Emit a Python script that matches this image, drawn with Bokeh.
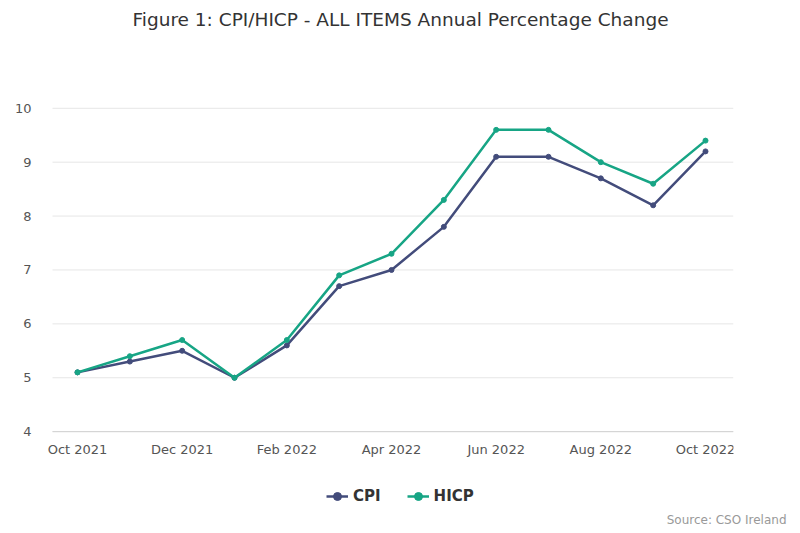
from bokeh.plotting import figure
from bokeh.models import Title, Legend, LegendItem, FixedTicker, Range1d, Label, ColumnDataSource
from bokeh.embed import file_html
from bokeh.resources import INLINE

months = ["Oct 2021", "Nov 2021", "Dec 2021", "Jan 2022", "Feb 2022", "Mar 2022", "Apr 2022",
          "May 2022", "Jun 2022", "Jul 2022", "Aug 2022", "Sep 2022", "Oct 2022"]
cpi = [5.1, 5.3, 5.5, 5.0, 5.6, 6.7, 7.0, 7.8, 9.1, 9.1, 8.7, 8.2, 9.2]
hicp = [5.1, 5.4, 5.7, 5.0, 5.7, 6.9, 7.3, 8.3, 9.6, 9.6, 9.0, 8.6, 9.4]
y_ticks = [4, 5, 6, 7, 8, 9, 10]

xs = list(range(len(months)))
FONT = "DejaVu Sans"
CPI_COLOR = "#434c7b"
HICP_COLOR = "#17a585"

# frame: x 40..733 px, y 0..508 px ; 52.333 px per month, 54 px per unit
PX_X = (705 - 77) / 12.0
PX_Y = 54.0
x0 = -(77 - 40) / PX_X
x1 = x0 + (733 - 40) / PX_X
grid_start = -(77 - 52) / PX_X
y_top = 10 + 108 / PX_Y
y_bot = 4 - (508 - 432) / PX_Y

p = figure(width=800, height=533, output_backend="svg", toolbar_location=None,
           x_range=Range1d(x0, x1), y_range=Range1d(y_bot, y_top), x_axis_location=None,
           min_border_left=40, min_border_right=67, min_border_top=0, min_border_bottom=25)
p.outline_line_color = None
p.background_fill_color = "white"
p.border_fill_color = "white"

p.yaxis.ticker = FixedTicker(ticks=y_ticks)
p.yaxis.major_tick_line_color = None
p.yaxis.minor_tick_line_color = None
p.yaxis.axis_line_color = None
p.yaxis.major_label_text_font = FONT
p.yaxis.major_label_text_font_size = "13px"
p.yaxis.major_label_text_color = "#555555"
p.yaxis.major_label_standoff = 3
p.ygrid.grid_line_color = None
p.xgrid.grid_line_color = None

# horizontal grid lines and x axis baseline
n = len(y_ticks)
p.segment(x0=[grid_start] * n, y0=y_ticks, x1=[x1] * n, y1=y_ticks, line_color="#e6e6e6", line_width=1)
p.segment(x0=[grid_start], y0=[y_ticks[0]], x1=[x1], y1=[y_ticks[0]], line_color="#d2d2d2", line_width=1)

lab_src = ColumnDataSource(dict(x=xs[::2], y=[y_ticks[0]] * len(xs[::2]), t=months[::2]))
p.text(x="x", y="y", text="t", source=lab_src, text_align="center", text_baseline="top",
       y_offset=10, text_font={"value": FONT}, text_font_size={"value": "13px"}, text_color="#555555")

l1 = p.line(xs, cpi, line_color=CPI_COLOR, line_width=2.5)
s1 = p.scatter(xs, cpi, size=5, fill_color=CPI_COLOR, line_color=CPI_COLOR)
l2 = p.line(xs, hicp, line_color=HICP_COLOR, line_width=2.5)
s2 = p.scatter(xs, hicp, size=5, fill_color=HICP_COLOR, line_color=HICP_COLOR)

legend = Legend(items=[LegendItem(label="CPI", renderers=[l1, s1]),
                       LegendItem(label="HICP", renderers=[l2, s2])],
                orientation="horizontal", location=(326 - 40, 1),
                label_text_font=FONT, label_text_font_size="15px", label_text_font_style="bold",
                label_text_color="#333333", border_line_color=None, background_fill_alpha=0,
                glyph_width=22, label_standoff=5, spacing=26, margin=0, padding=0)
p.add_layout(legend)

p.add_layout(Label(x=x0 + (400 - 40) / PX_X, y=y_top - 19 / PX_Y,
                   text="Figure 1: CPI/HICP - ALL ITEMS Annual Percentage Change",
                   text_align="center", text_baseline="middle", text_font=FONT,
                   text_font_size="18.5px", text_color="#333333"))

source = Title(text="Source: CSO Ireland", align="right", vertical_align="top", offset=-53,
               text_font=FONT, text_font_size="12px", text_font_style="normal", text_color="#999999")
p.add_layout(source, "below")

open("out.html", "w").write(file_html(p, INLINE))
